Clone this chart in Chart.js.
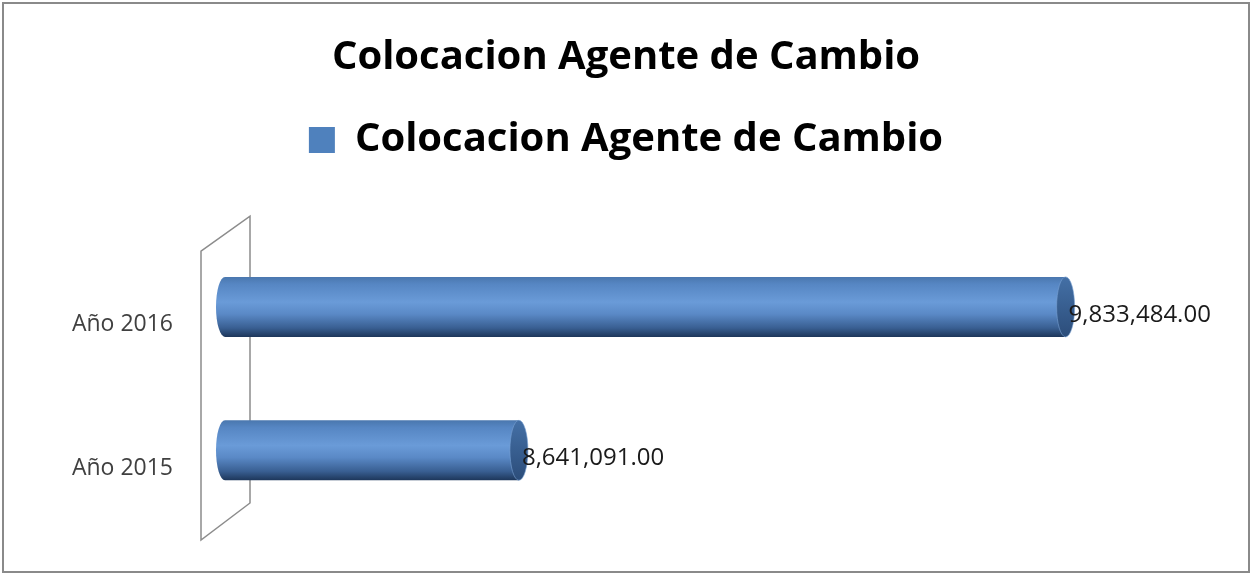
<!DOCTYPE html>
<html>
<head>
<meta charset="utf-8">
<script src="https://cdn.jsdelivr.net/npm/chart.js@4.4.1/dist/chart.umd.min.js"></script>
<style>
  html, body { margin: 0; padding: 0; background: #fff; }
  #wrap { width: 1252px; height: 574px; }
</style>
</head>
<body>
<div id="wrap"><canvas id="colocacionChart" width="1252" height="574"></canvas></div>
<script>
const categories = ['Año 2015', 'Año 2016'];
const values = [8641091, 9833484];
const seriesName = 'Colocacion Agente de Cambio';
const axisMin = 8000000;
const axisMax = 10240000;

const fmt = v => v.toLocaleString('en-US', { minimumFractionDigits: 2, maximumFractionDigits: 2 });

// outer frame + 3d wall behind the bars
const chartFrame = {
    id: 'chartFrame',
    beforeDraw(chart) {
        const ctx = chart.ctx;
        ctx.save();
        ctx.fillStyle = '#fff';
        ctx.fillRect(0, 0, chart.width, chart.height);
        ctx.strokeStyle = '#8a8a8a';
        ctx.lineWidth = 2;
        ctx.strokeRect(3, 3, chart.width - 6, chart.height - 5);
        ctx.restore();
    },
    beforeDatasetsDraw(chart) {
        const {ctx, chartArea: a} = chart;
        ctx.save();
        ctx.strokeStyle = '#8c8c8c';
        ctx.lineWidth = 1.5;
        ctx.beginPath();
        ctx.moveTo(a.left - 24, a.top + 16);
        ctx.lineTo(a.left + 25, a.top - 19);
        ctx.lineTo(a.left + 25, a.bottom - 19);
        ctx.lineTo(a.left - 24, a.bottom + 18);
        ctx.closePath();
        ctx.stroke();
        ctx.restore();
    }
};

// cylinders + value labels
const cylinders = {
    id: 'cylinders',
    afterDatasetsDraw(chart) {
        const ctx = chart.ctx;
        const meta = chart.getDatasetMeta(0);
        meta.data.forEach((bar, i) => {
            const h = bar.height;
            const top = bar.y - h / 2;
            const rx = 9;
            const g = ctx.createLinearGradient(0, top, 0, top + h);
            g.addColorStop(0, '#4a77ae');
            g.addColorStop(0.12, '#5686c3');
            g.addColorStop(0.42, '#6a9bd8');
            g.addColorStop(0.62, '#5a89c6');
            g.addColorStop(0.85, '#395f92');
            g.addColorStop(1, '#1d365a');
            ctx.save();
            ctx.fillStyle = g;
            ctx.beginPath();
            ctx.moveTo(bar.x, top);
            ctx.lineTo(bar.base, top);
            ctx.ellipse(bar.base, bar.y, rx, h / 2, 0, -Math.PI / 2, Math.PI / 2, true);
            ctx.lineTo(bar.x, top + h);
            ctx.closePath();
            ctx.fill();
            // end face
            const eg = ctx.createLinearGradient(0, top, 0, top + h);
            eg.addColorStop(0, '#4470a6');
            eg.addColorStop(1, '#2c4d7a');
            ctx.fillStyle = eg;
            ctx.beginPath();
            ctx.ellipse(bar.x, bar.y, rx, h / 2, 0, 0, Math.PI * 2);
            ctx.fill();
            ctx.strokeStyle = 'rgba(120,160,210,0.6)';
            ctx.lineWidth = 1;
            ctx.stroke();
            // label
            ctx.fillStyle = '#1a1a1a';
            ctx.font = '24px "Open Sans"';
            ctx.textAlign = 'left';
            ctx.textBaseline = 'middle';
            ctx.fillText(fmt(values[i]), bar.x + 3, bar.y + 8);
            ctx.restore();
        });
    }
};

new Chart(document.getElementById('colocacionChart'), {
    type: 'bar',
    data: {
        labels: categories,
        datasets: [{
            label: seriesName,
            data: values,
            base: axisMin,
            backgroundColor: 'rgba(0,0,0,0)',
            borderWidth: 0,
            barThickness: 60
        }]
    },
    options: {
        indexAxis: 'y',
        responsive: false,
        animation: false,
        devicePixelRatio: 1,
        layout: { padding: { left: 0, right: 0, top: 0, bottom: 52 } },
        scales: {
            x: { display: false, min: axisMin, max: axisMax },
            y: {
                reverse: true,
                grid: { display: false, drawTicks: false },
                border: { display: false },
                ticks: {
                    color: '#404040',
                    font: { family: 'Open Sans', size: 23 },
                    padding: 52,
                    labelOffset: 18
                },
                afterFit(scale) {
                    scale.width = 225;
                    scale.paddingTop = 0;
                    scale.paddingBottom = 0;
                }
            }
        },
        plugins: {
            title: {
                display: true,
                text: seriesName,
                color: '#000',
                font: { family: 'Open Sans', size: 40, weight: 'bold', lineHeight: 1.2 },
                padding: { top: 34, bottom: 28 }
            },
            legend: {
                display: true,
                weight: 1800,
                labels: {
                    color: '#000',
                    font: { family: 'Open Sans', size: 40, weight: 'bold' },
                    boxWidth: 26,
                    boxHeight: 26,
                    generateLabels: () => [{
                        text: seriesName,
                        fillStyle: '#4f81bd',
                        strokeStyle: '#4f81bd',
                        lineWidth: 0,
                        hidden: false,
                        datasetIndex: 0
                    }]
                }
            },
            subtitle: {
                display: true,
                text: '',
                font: { size: 1 },
                padding: { top: 0, bottom: 64 }
            },
            tooltip: { enabled: false }
        }
    },
    plugins: [chartFrame, cylinders]
});
</script>
</body>
</html>
